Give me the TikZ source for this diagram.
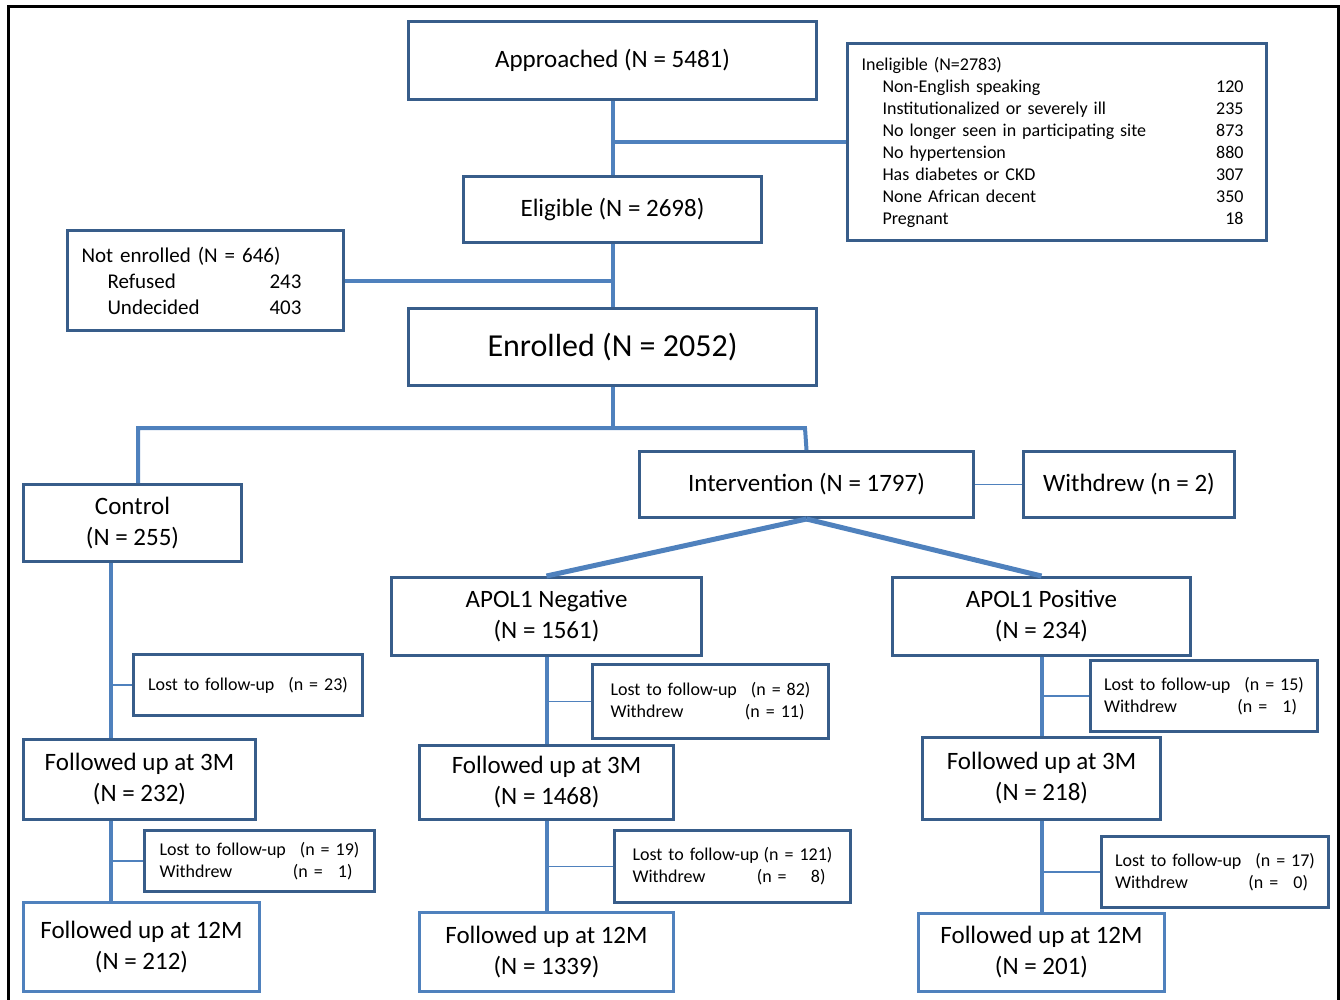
\documentclass[tikz,border=0pt]{standalone}
\usepackage{fontspec}
\setmainfont{Carlito}
\definecolor{boxline}{HTML}{385D8A}
\definecolor{lineblue}{HTML}{4F81BD}
\tikzset{
  box/.style={draw=boxline, line width=3pt, fill=white, inner sep=0pt, align=center,
    anchor=north west, font=\fontsize{25}{31}\selectfont},
  lightbox/.style={box, draw=lineblue},
  sidebox/.style={draw=boxline, line width=3pt, fill=white, inner xsep=14pt, inner ysep=0pt,
    anchor=north west, font=\fontsize{18}{22}\selectfont},
  lostbox/.style={sidebox, inner xsep=0pt, text width=200pt},
  trunk/.style={lineblue, line width=4pt},
  twig/.style={lineblue, line width=1.5pt},
}
\begin{document}
\begin{tikzpicture}[x=1pt,y=-1pt]
  \useasboundingbox (0,0) rectangle (1340,999);
  \draw[line width=3pt] (8.5,1010) -- (8.5,6.5) -- (1338.5,6.5) -- (1338.5,1010);
  % triagem
  \node[box, minimum width=408, minimum height=78] (appr) at (407,20) {Approached (N = 5481)};
  \node[sidebox, minimum width=419, minimum height=197, text width=391pt] (inel) at (846,42)
    {Ineligible (N=2783)\\
     \hspace*{21pt}Non-English speaking\hfill 120\kern9pt\\
     \hspace*{21pt}Institutionalized or severely ill\hfill 235\kern9pt\\
     \hspace*{21pt}No longer seen in participating site\hfill 873\kern9pt\\
     \hspace*{21pt}No hypertension\hfill 880\kern9pt\\
     \hspace*{21pt}Has diabetes or CKD\hfill 307\kern9pt\\
     \hspace*{21pt}None African decent\hfill 350\kern9pt\\
     \hspace*{21pt}Pregnant\hfill 18\kern9pt};
  \node[box, minimum width=298, minimum height=66] (elig) at (462,175) {Eligible (N = 2698)};
  \node[sidebox, minimum width=276, minimum height=100, text width=248pt,
    font=\fontsize{21}{26}\selectfont] (notenr) at (66,229)
    {Not enrolled (N = 646)\\
     \hspace*{26pt}Refused\hfill 243\kern28pt\\
     \hspace*{26pt}Undecided\hfill 403\kern28pt};
  \node[box, minimum width=408, minimum height=77, font=\fontsize{32}{38}\selectfont] (enrl) at (407,307)
    {Enrolled (N = 2052)};
  % grupos
  \node[box, minimum width=218, minimum height=77] (ctrl) at (22,483) {Control\\(N = 255)};
  \node[box, minimum width=334, minimum height=66] (intv) at (638,450) {Intervention (N = 1797)};
  \node[box, minimum width=211, minimum height=66] (wdrw) at (1022,450) {Withdrew (n = 2)};
  \node[box, minimum width=310, minimum height=78] (neg) at (390,576) {APOL1 Negative\\(N = 1561)};
  \node[box, minimum width=298, minimum height=78] (pos) at (891,576) {APOL1 Positive\\(N = 234)};
  % controle
  \node[lostbox, minimum width=229, minimum height=61] (c3lost) at (132,653)
    {Lost to follow-up\hfill(n = 23)};
  \node[box, minimum width=232, minimum height=80] (c3) at (22,738) {Followed up at 3M\\(N = 232)};
  \node[lostbox, minimum width=230, minimum height=61] (c12lost) at (143,829)
    {Lost to follow-up\hfill(n = 19)\\Withdrew\hfill(n = \phantom{0}1)\kern7pt};
  \node[lightbox, minimum width=236, minimum height=89] (c12) at (22,901) {Followed up at 12M\\(N = 212)};
  % negativo
  \node[lostbox, minimum width=236, minimum height=74] (n3lost) at (591,663)
    {Lost to follow-up\hfill(n = 82)\\Withdrew\hfill(n = 11)\kern6pt};
  \node[box, minimum width=254, minimum height=74] (n3) at (418,744) {Followed up at 3M\\(N = 1468)};
  \node[lostbox, minimum width=236, minimum height=72] (n12lost) at (613,829)
    {Lost to follow-up\hfill(n = 121)\\Withdrew\hfill(n = \phantom{00}8)\kern7pt};
  \node[lightbox, minimum width=254, minimum height=79] (n12) at (418,911) {Followed up at 12M\\(N = 1339)};
  % positivo
  \node[lostbox, minimum width=227, minimum height=71] (p3lost) at (1089,659)
    {Lost to follow-up\hfill(n = 15)\\Withdrew\hfill(n = \phantom{0}1)\kern7pt};
  \node[box, minimum width=238, minimum height=82] (p3) at (921,736) {Followed up at 3M\\(N = 218)};
  \node[lostbox, minimum width=227, minimum height=71] (p12lost) at (1100,835)
    {Lost to follow-up\hfill(n = 17)\\Withdrew\hfill(n = \phantom{0}0)\kern7pt};
  \node[lightbox, minimum width=246, minimum height=78] (p12) at (917,912) {Followed up at 12M\\(N = 201)};
  % ligacoes
  \draw[trunk] (appr.south) -- (elig.north);
  \draw[trunk] (elig.south) -- (enrl.north);
  \draw[trunk] (inel.west) -- (inel.west -| appr.south);
  \draw[trunk] (notenr.east) -- (notenr.east -| elig.south);
  \coordinate (lsplit) at (138,428);
  \coordinate (rsplit) at (805,428);
  \draw[trunk] (enrl.south) -- (enrl.south |- lsplit);
  \draw[trunk] (ctrl.north -| lsplit) -- (lsplit) -- (rsplit) -- (intv.north);
  \draw[twig] (intv.east) -- (wdrw.west);
  \draw[trunk, line width=5pt] (intv.south) -- (neg.north);
  \draw[trunk, line width=5pt] (intv.south) -- (pos.north);
  \coordinate (ctrlx) at (111,0);
  \draw[trunk] (ctrl.south -| ctrlx) -- (c3.north -| ctrlx);
  \draw[trunk] (c3.south -| ctrlx) -- (c12.north -| ctrlx);
  \draw[twig] (c3lost.west) -- (c3lost.west -| ctrlx);
  \draw[twig] (c12lost.west) -- (c12lost.west -| ctrlx);
  \draw[trunk] (neg.south) -- (n3.north);
  \draw[trunk] (n3.south) -- (n12.north);
  \draw[twig] (n3lost.west) -- (n3lost.west -| neg.south);
  \draw[twig] (n12lost.west) -- (n12lost.west -| n3.south);
  \draw[trunk] (pos.south) -- (p3.north);
  \draw[trunk] (p3.south) -- (p12.north);
  \draw[twig] (p3lost.west) -- (p3lost.west -| pos.south);
  \draw[twig] (p12lost.west) -- (p12lost.west -| p3.south);
\end{tikzpicture}
\end{document}
